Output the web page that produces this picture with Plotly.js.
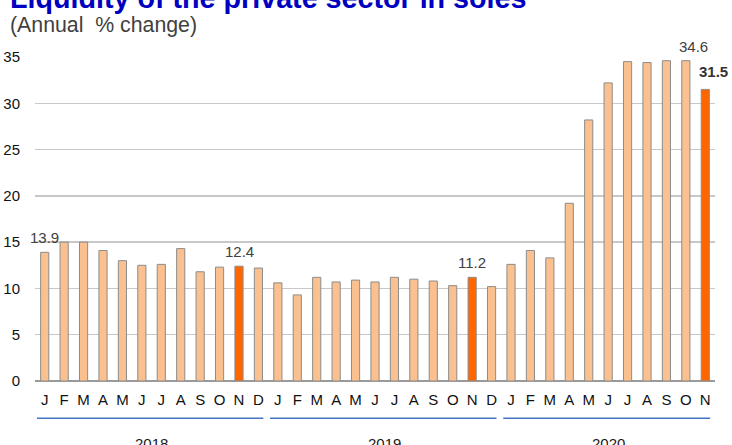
<!DOCTYPE html>
<html>
<head>
<meta charset="utf-8">
<script src="https://cdn.plot.ly/plotly-3.0.1.min.js"></script>
<style>
  html, body { margin: 0; padding: 0; background: #fff; }
  #chart { width: 732px; height: 445px; }
</style>
</head>
<body>
<div id="chart"></div>
<script>
// Liquidity of the private sector in soles, annual % change, Jan 2018 - Nov 2020
var monthNames = ["Jan", "Feb", "Mar", "Apr", "May", "Jun", "Jul", "Aug", "Sep", "Oct", "Nov", "Dec"];
var years = ["2018", "2019", "2020"];
var growth2018 = [13.9, 15.0, 15.0, 14.1, 13.0, 12.5, 12.6, 14.3, 11.8, 12.3, 12.4, 12.2];
var growth2019 = [10.6, 9.3, 11.2, 10.7, 10.9, 10.7, 11.2, 11.0, 10.8, 10.3, 11.2, 10.2];
var growth2020 = [12.6, 14.1, 13.3, 19.2, 28.2, 32.2, 34.5, 34.4, 34.6, 34.6, 31.5];
// November of each year is drawn in dark orange
var highlighted = ["Nov 2018", "Nov 2019", "Nov 2020"];
// bars that carry a value label
var labelled = ["Jan 2018", "Nov 2018", "Nov 2019", "Oct 2020", "Nov 2020"];

var FONT = "Liberation Sans, Arial, sans-serif";

// flatten into one category axis
var series = [growth2018, growth2019, growth2020];
var periods = [], values = [], tickText = [];
series.forEach(function (vals, i) {
  vals.forEach(function (v, m) {
    periods.push(monthNames[m] + " " + years[i]);
    values.push(v);
    tickText.push(monthNames[m].charAt(0));
  });
});
var barColors = periods.map(p => highlighted.indexOf(p) >= 0 ? "#ff6600" : "#fbc08f");

var trace = {
  x: periods,
  y: values,
  type: "bar",
  marker: { color: barColors, line: { color: "#8c8c8c", width: 1 } },
  hoverinfo: "x+y"
};

// value labels above bars
var annotations = labelled.map(function (p, k) {
  var idx = periods.indexOf(p);
  var last = k === labelled.length - 1;
  return {
    x: p, y: values[idx], xref: "x", yref: "y",
    text: last ? "<b>" + values[idx].toFixed(1) + "</b>" : values[idx].toFixed(1),
    showarrow: false, yanchor: "bottom", yshift: last ? 7 : 4,
    xshift: p.indexOf("2020") >= 0 ? 8 : 0,
    font: { family: FONT, size: 15, color: last ? "#333333" : "#404040" }
  };
});

// year brackets under the month letters
var shapes = [];
years.forEach(function (yr) {
  var idx = [];
  periods.forEach((p, i) => { if (p.indexOf(yr) >= 0) idx.push(i); });
  var first = idx[0], last = idx[idx.length - 1];
  shapes.push({
    type: "line", xref: "x", yref: "paper",
    x0: first - 0.4, x1: last + 0.25, y0: -0.115, y1: -0.115,
    line: { color: "#4472c4", width: 1.5 }
  });
  annotations.push({
    x: (first + last) / 2, y: -0.192, xref: "x", yref: "paper",
    text: yr, showarrow: false, yanchor: "middle",
    font: { family: FONT, size: 15, color: "#1a1a1a" }
  });
});

// title (cut off by the top edge, as in the source) and subtitle
annotations.push({
  x: 0, y: 1.182, xref: "paper", yref: "paper", xanchor: "left", xshift: -27,
  text: "<b>Liquidity of the private sector in soles</b>", showarrow: false, yanchor: "middle",
  font: { family: FONT, size: 28.7, color: "#0000c0" }
});
annotations.push({
  x: 0, y: 1.099, xref: "paper", yref: "paper", xanchor: "left", xshift: -27,
  text: "(Annual&nbsp; % change)", showarrow: false, yanchor: "middle",
  font: { family: FONT, size: 21.3, color: "#404040" }
});

var layout = {
  width: 732,
  height: 445,
  margin: { l: 35, r: 17, t: 57, b: 64 },
  paper_bgcolor: "#ffffff",
  plot_bgcolor: "#ffffff",
  showlegend: false,
  bargap: 0.58,
  xaxis: {
    type: "category",
    range: [-0.5, periods.length - 0.5],
    automargin: false,
    tickvals: periods,
    ticktext: tickText,
    ticks: "",
    ticklabelstandoff: 8,
    tickangle: 0,
    showgrid: false,
    tickfont: { family: FONT, size: 15, color: "#111111" }
  },
  yaxis: {
    range: [0, 35],
    dtick: 5,
    automargin: false,
    showgrid: true,
    gridcolor: "#c8c8c8",
    gridwidth: 1.5,
    zeroline: true,
    zerolinecolor: "#9a9a9a",
    zerolinewidth: 2,
    ticks: "",
    ticklabelstandoff: 14,
    tickfont: { family: FONT, size: 15, color: "#111111" }
  },
  annotations: annotations,
  shapes: shapes
};

Plotly.newPlot("chart", [trace], layout, { displayModeBar: false, staticPlot: true });
</script>
</body>
</html>
